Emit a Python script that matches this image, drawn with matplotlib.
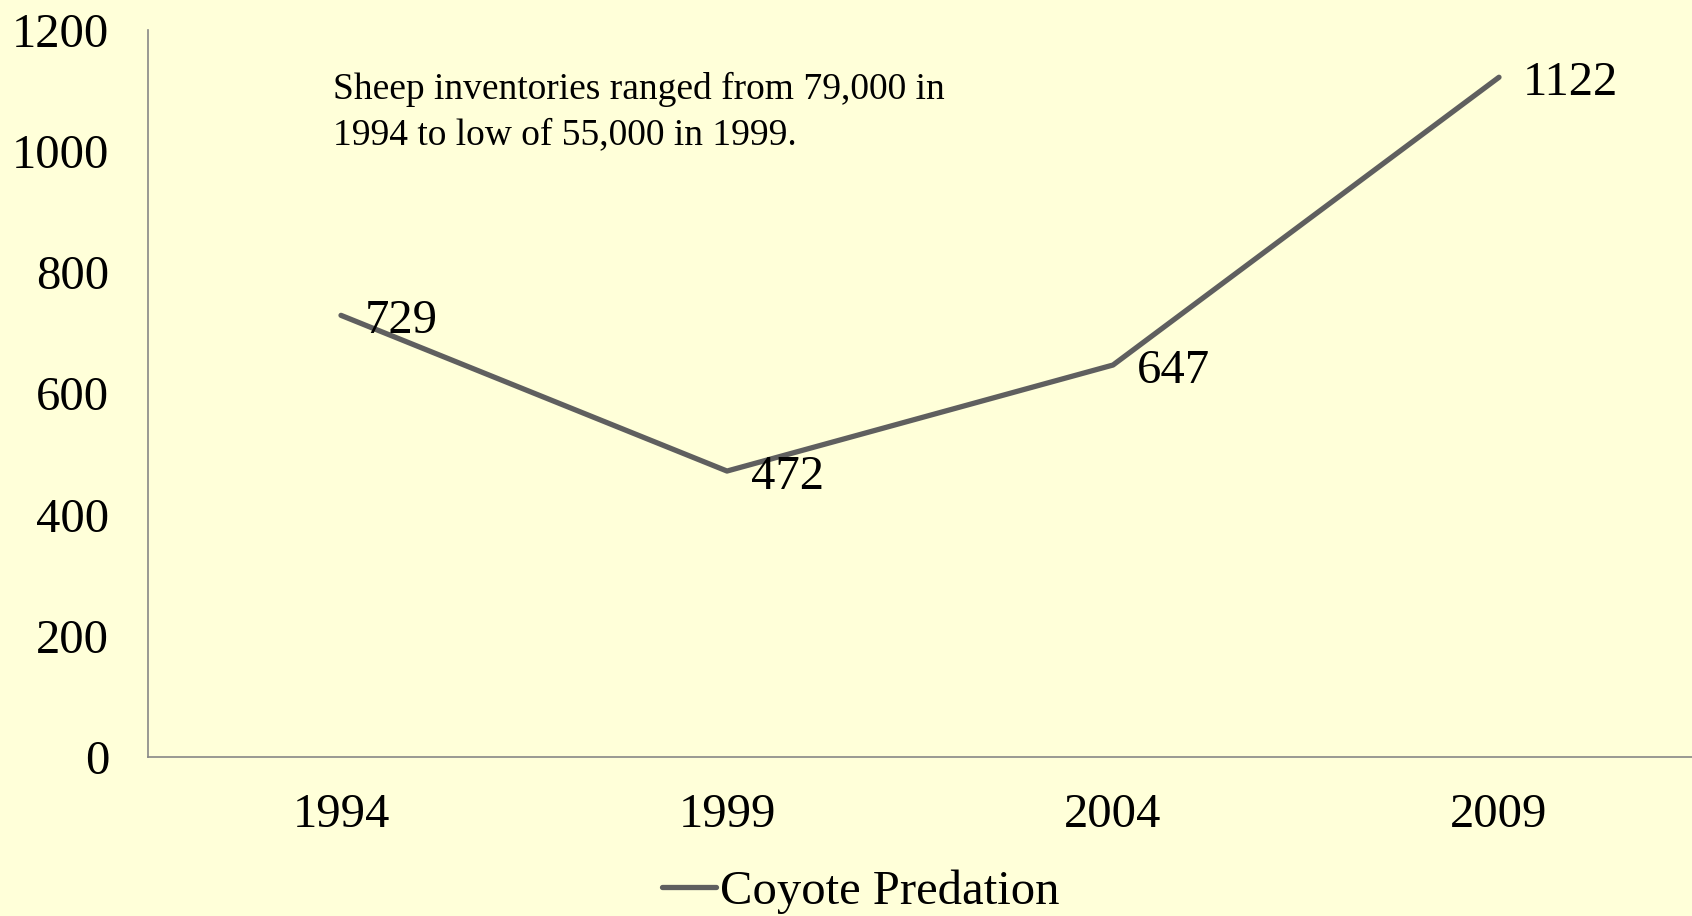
import matplotlib.pyplot as plt

YEARS = ["1994", "1999", "2004", "2009"]
PREDATION = [729, 472, 647, 1122]
SERIES_NAME = "Coyote Predation"
NOTE = "Sheep inventories ranged from 79,000 in\n1994 to low of 55,000 in 1999."

BG = "#FFFFD9"
LINE = "#5F5F5F"
SPINE = "#878787"

plt.rcParams['font.family'] = ['Liberation Serif', 'DejaVu Serif']


def main():
    fig = plt.figure(figsize=(16.92, 9.16), dpi=100, facecolor=BG)
    ax = fig.add_axes([148 / 1692, 1 - 757 / 916, 1 - 148 / 1692, (757 - 30) / 916])
    ax.set_facecolor(BG)

    x = list(range(len(YEARS)))
    ax.plot(x, PREDATION, color=LINE, lw=3.8, solid_capstyle='round',
            label=SERIES_NAME)
    for xi, v in zip(x, PREDATION):
        ax.annotate(str(v), (xi, v), xytext=(17, -4), textcoords='offset points',
                    ha='left', va='center', fontsize=35)

    ax.set_xlim(-0.5, len(YEARS) - 0.5)
    ax.set_ylim(0, 1200)
    ax.set_yticks(range(0, 1201, 200))
    ax.set_xticks(x)
    ax.set_xticklabels(YEARS)
    ax.tick_params(axis='both', length=0, labelsize=35)
    ax.tick_params(axis='y', pad=28)
    ax.tick_params(axis='x', pad=26)

    for s in ['top', 'right']:
        ax.spines[s].set_visible(False)
    for s in ['left', 'bottom']:
        ax.spines[s].set_color(SPINE)
        ax.spines[s].set_linewidth(1.2)

    fig.text(333 / 1692, 1 - 72 / 916, NOTE, ha='left', va='top',
             fontsize=27, linespacing=1.38)

    fig.legend(loc='center', bbox_to_anchor=(861 / 1692, 1 - 892 / 916),
               frameon=False, fontsize=35, handlelength=1.1,
               handletextpad=0.1, borderpad=0)

    fig.savefig("out.png", dpi=100, facecolor=BG)


if __name__ == "__main__":
    main()
